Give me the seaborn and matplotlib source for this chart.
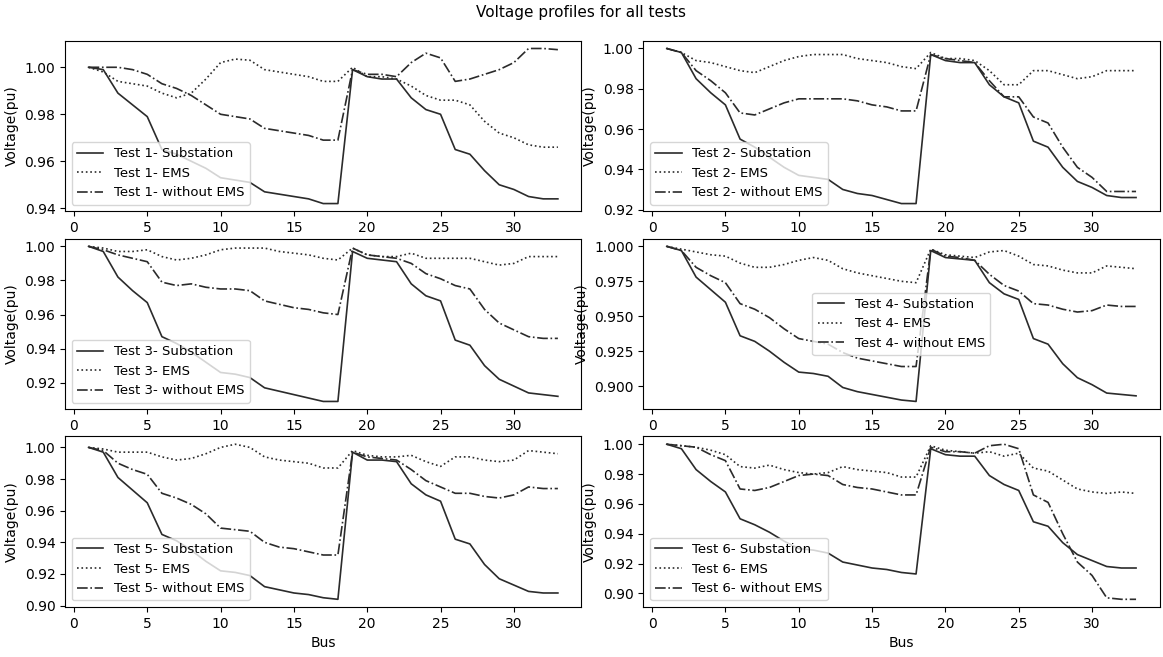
import numpy as np
import pandas as pd
import matplotlib
matplotlib.use("Agg")
import matplotlib.pyplot as plt
import seaborn as sns

bus = list(range(1, 34))

t1_sub = [1.000, 0.999, 0.989, 0.984, 0.979, 0.965, 0.963, 0.960, 0.957, 0.953, 0.952, 0.951, 0.947, 0.946, 0.945, 0.944, 0.942, 0.942,
          0.999, 0.996, 0.995, 0.995, 0.987, 0.982, 0.980, 0.965, 0.963, 0.956, 0.950, 0.948, 0.945, 0.944, 0.944]
t1_ems = [1.000, 0.998, 0.994, 0.993, 0.992, 0.989, 0.987, 0.989, 0.995, 1.002, 1.0035, 1.003, 0.999, 0.998, 0.997, 0.996, 0.994, 0.994,
          1.000, 0.996, 0.996, 0.995, 0.992, 0.988, 0.986, 0.986, 0.984, 0.977, 0.972, 0.970, 0.967, 0.966, 0.966]
t1_wo = [1.000, 1.000, 1.000, 0.999, 0.997, 0.993, 0.991, 0.988, 0.984, 0.980, 0.979, 0.978, 0.974, 0.973, 0.972, 0.971, 0.969, 0.969,
         0.999, 0.997, 0.997, 0.996, 1.002, 1.006, 1.004, 0.994, 0.995, 0.997, 0.999, 1.002, 1.008, 1.008, 1.0075]

t2_sub = [1.000, 0.998, 0.985, 0.978, 0.972, 0.955, 0.951, 0.946, 0.941, 0.937, 0.936, 0.935, 0.930, 0.928, 0.927, 0.925, 0.923, 0.923,
          0.997, 0.994, 0.993, 0.993, 0.982, 0.976, 0.973, 0.954, 0.951, 0.941, 0.934, 0.931, 0.927, 0.926, 0.926]
t2_ems = [1.000, 0.998, 0.994, 0.993, 0.991, 0.989, 0.988, 0.991, 0.994, 0.996, 0.997, 0.997, 0.997, 0.995, 0.994, 0.993, 0.991, 0.990,
          0.998, 0.995, 0.995, 0.994, 0.989, 0.982, 0.982, 0.989, 0.989, 0.987, 0.985, 0.986, 0.989, 0.989, 0.989]
t2_wo = [1.000, 0.998, 0.989, 0.984, 0.978, 0.968, 0.967, 0.970, 0.973, 0.975, 0.975, 0.975, 0.975, 0.974, 0.972, 0.971, 0.969, 0.969,
         0.997, 0.995, 0.994, 0.993, 0.984, 0.976, 0.976, 0.966, 0.963, 0.951, 0.941, 0.936, 0.929, 0.929, 0.929]

t3_sub = [1.000, 0.997, 0.982, 0.974, 0.967, 0.947, 0.943, 0.938, 0.932, 0.926, 0.925, 0.923, 0.917, 0.915, 0.913, 0.911, 0.909, 0.909,
          0.997, 0.993, 0.992, 0.991, 0.978, 0.971, 0.968, 0.945, 0.942, 0.930, 0.922, 0.918, 0.914, 0.913, 0.912]
t3_ems = [1.000, 0.999, 0.997, 0.997, 0.998, 0.994, 0.992, 0.993, 0.995, 0.998, 0.999, 0.999, 0.999, 0.997, 0.996, 0.995, 0.993, 0.992,
          0.999, 0.995, 0.994, 0.994, 0.996, 0.993, 0.993, 0.993, 0.993, 0.991, 0.989, 0.990, 0.994, 0.994, 0.994]
t3_wo = [1.000, 0.998, 0.995, 0.993, 0.991, 0.979, 0.977, 0.978, 0.976, 0.975, 0.975, 0.974, 0.968, 0.966, 0.964, 0.963, 0.961, 0.960,
         0.999, 0.995, 0.994, 0.993, 0.990, 0.984, 0.981, 0.977, 0.975, 0.963, 0.955, 0.951, 0.947, 0.946, 0.946]

t4_sub = [1.000, 0.997, 0.978, 0.969, 0.960, 0.936, 0.932, 0.925, 0.917, 0.910, 0.909, 0.907, 0.899, 0.896, 0.894, 0.892, 0.890, 0.889,
          0.997, 0.992, 0.991, 0.990, 0.974, 0.966, 0.962, 0.934, 0.930, 0.916, 0.906, 0.901, 0.895, 0.894, 0.893]
t4_ems = [1.000, 0.998, 0.996, 0.994, 0.993, 0.988, 0.985, 0.985, 0.987, 0.990, 0.992, 0.990, 0.984, 0.981, 0.979, 0.977, 0.975, 0.974,
          0.998, 0.994, 0.993, 0.992, 0.996, 0.997, 0.993, 0.987, 0.986, 0.983, 0.981, 0.981, 0.986, 0.985, 0.984]
t4_wo = [1.000, 0.997, 0.985, 0.979, 0.974, 0.959, 0.955, 0.949, 0.941, 0.934, 0.932, 0.930, 0.924, 0.920, 0.918, 0.916, 0.914, 0.914,
         0.998, 0.993, 0.992, 0.990, 0.980, 0.972, 0.968, 0.959, 0.958, 0.955, 0.953, 0.954, 0.958, 0.957, 0.957]

t5_sub = [1.000, 0.997, 0.981, 0.973, 0.965, 0.945, 0.941, 0.935, 0.928, 0.922, 0.921, 0.919, 0.912, 0.910, 0.908, 0.907, 0.905, 0.904,
          0.997, 0.992, 0.992, 0.991, 0.977, 0.970, 0.966, 0.942, 0.939, 0.926, 0.917, 0.913, 0.909, 0.908, 0.908]
t5_ems = [1.000, 0.999, 0.997, 0.997, 0.997, 0.994, 0.992, 0.993, 0.996, 1.000, 1.002, 1.000, 0.994, 0.992, 0.991, 0.990, 0.987, 0.987,
          0.998, 0.995, 0.994, 0.994, 0.995, 0.991, 0.988, 0.994, 0.994, 0.992, 0.991, 0.992, 0.998, 0.997, 0.996]
t5_wo = [1.000, 0.998, 0.990, 0.986, 0.983, 0.971, 0.968, 0.964, 0.958, 0.949, 0.948, 0.947, 0.940, 0.937, 0.936, 0.934, 0.932, 0.932,
         0.997, 0.994, 0.993, 0.992, 0.986, 0.979, 0.975, 0.971, 0.971, 0.969, 0.968, 0.970, 0.975, 0.974, 0.974]

t6_sub = [1.000, 0.997, 0.983, 0.975, 0.968, 0.950, 0.946, 0.941, 0.935, 0.930, 0.929, 0.927, 0.921, 0.919, 0.917, 0.916, 0.914, 0.913,
          0.997, 0.993, 0.992, 0.992, 0.979, 0.973, 0.969, 0.948, 0.945, 0.934, 0.926, 0.922, 0.918, 0.917, 0.917]
t6_ems = [1.000, 0.999, 0.998, 0.996, 0.993, 0.985, 0.984, 0.986, 0.983, 0.981, 0.980, 0.981, 0.985, 0.983, 0.982, 0.981, 0.978, 0.978,
          0.999, 0.996, 0.995, 0.994, 0.995, 0.992, 0.994, 0.984, 0.982, 0.976, 0.970, 0.968, 0.967, 0.968, 0.967]
t6_wo = [1.000, 0.999, 0.998, 0.993, 0.989, 0.970, 0.969, 0.971, 0.975, 0.979, 0.980, 0.979, 0.973, 0.971, 0.970, 0.968, 0.966, 0.966,
         0.998, 0.995, 0.995, 0.994, 0.999, 1.000, 0.997, 0.966, 0.961, 0.940, 0.921, 0.912, 0.897, 0.896, 0.896]

tests = [
    (t1_sub, t1_ems, t1_wo),
    (t2_sub, t2_ems, t2_wo),
    (t3_sub, t3_ems, t3_wo),
    (t4_sub, t4_ems, t4_wo),
    (t5_sub, t5_ems, t5_wo),
    (t6_sub, t6_ems, t6_wo),
]
series_names = ["Substation", "EMS", "without EMS"]
linestyles = ["-", ":", "-."]
legend_locs = ["lower left", "lower left", "lower left", "center", "lower left", "lower left"]

plt.rcParams['font.family'] = ['DejaVu Sans']

fig, axes = plt.subplots(3, 2, figsize=(11.63, 6.57), dpi=100)
fig.subplots_adjust(left=0.056, right=0.997, top=0.938, bottom=0.076, hspace=0.16, wspace=0.12)
fig.suptitle("Voltage profiles for all tests", fontsize=11, y=0.992)

color = "#2b2b2b"
for i, (ax, series) in enumerate(zip(axes.flat, tests)):
    for name, ls, vals in zip(series_names, linestyles, series):
        df = pd.DataFrame({"Bus": bus, "V": vals})
        sns.lineplot(data=df, x="Bus", y="V", ax=ax, color=color, linestyle=ls,
                     linewidth=1.2, label=f"Test {i+1}- {name}", errorbar=None)
    ax.set_ylabel("Voltage(pu)", fontsize=10)
    ax.set_xticks([0, 5, 10, 15, 20, 25, 30])
    if i >= 4:
        ax.set_xlabel("Bus", fontsize=10)
    else:
        ax.set_xlabel("")
    ax.tick_params(labelsize=10)
    ax.legend(loc=legend_locs[i], fontsize=9.5)

fig.savefig("out.png", dpi=100)
